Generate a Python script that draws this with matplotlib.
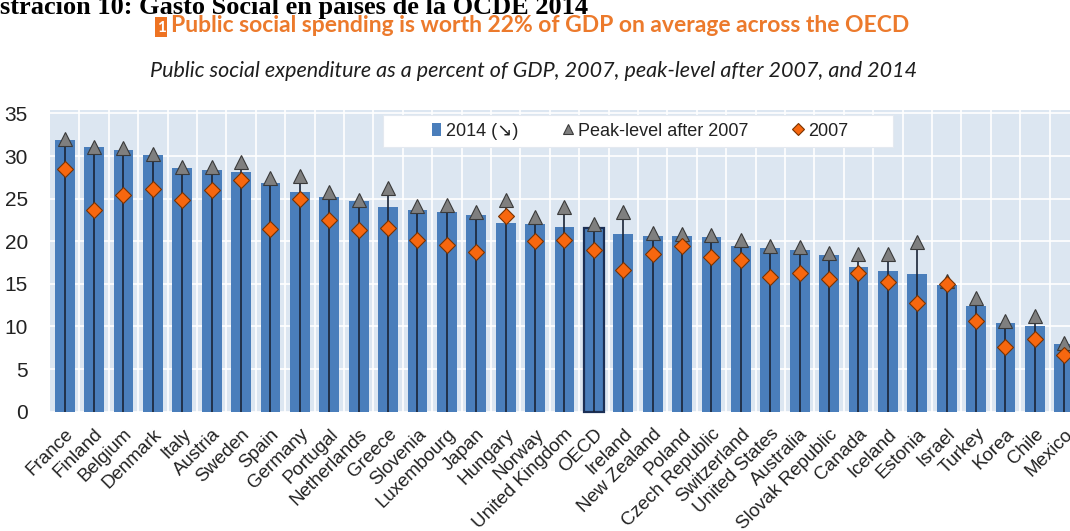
import matplotlib
matplotlib.use("Agg")
import matplotlib.pyplot as plt
from matplotlib.patches import Rectangle
import numpy as np

countries = ["France", "Finland", "Belgium", "Denmark", "Italy", "Austria", "Sweden",
             "Spain", "Germany", "Portugal", "Netherlands", "Greece", "Slovenia",
             "Luxembourg", "Japan", "Hungary", "Norway", "United Kingdom", "OECD",
             "Ireland", "New Zealand", "Poland", "Czech Republic", "Switzerland",
             "United States", "Australia", "Slovak Republic", "Canada", "Iceland",
             "Estonia", "Israel", "Turkey", "Korea", "Chile", "Mexico"]
spend_2014 = [31.9, 31.0, 30.7, 30.1, 28.6, 28.4, 28.1, 26.8, 25.8, 25.2, 24.7, 24.0,
              23.7, 23.4, 23.1, 22.1, 22.0, 21.7, 21.6, 20.8, 20.6, 20.6, 20.5, 19.4,
              19.2, 19.0, 18.4, 17.0, 16.5, 16.2, 14.9, 12.4, 10.4, 10.0, 7.9]
peak_after_2007 = [32.0, 31.0, 30.9, 30.2, 28.7, 28.7, 29.3, 27.4, 27.6, 25.8, 24.8, 26.3,
                   24.1, 24.3, 23.4, 24.8, 22.8, 24.0, 22.0, 23.4, 21.0, 20.8, 20.7, 20.1,
                   19.5, 19.3, 18.6, 18.5, 18.5, 19.9, 15.3, 13.3, 10.6, 11.2, 8.1]
spend_2007 = [28.5, 23.7, 25.4, 26.1, 24.8, 26.0, 27.2, 21.4, 24.9, 22.5, 21.3, 21.5,
              20.2, 19.6, 18.7, 23.0, 20.0, 20.1, 19.0, 16.6, 18.5, 19.5, 18.1, 17.8,
              15.8, 16.3, 15.6, 16.3, 15.2, 12.8, 15.0, 10.7, 7.6, 8.5, 6.7]
y_ticks = [0, 5, 10, 15, 20, 25, 30, 35]

bar_color = "#4A7EBB"
bg_color = "#DCE6F1"
tri_color = "#7F7F7F"
dia_color = "#F7670F"

plt.rcParams["font.family"] = ["Liberation Sans", "DejaVu Sans"]

fig = plt.figure(figsize=(10.70, 5.31), dpi=100)
ax = fig.add_axes([50 / 1070, 1 - 411.7 / 531, 1029 / 1070, 301.7 / 531])
ax.set_facecolor(bg_color)

x = np.arange(len(countries))
bars = ax.bar(x, spend_2014, width=0.68, color=bar_color, zorder=2, label="2014 (\u2198)")
oecd = countries.index("OECD")
bars[oecd].set_edgecolor("#1B2F55")
bars[oecd].set_linewidth(1.6)
bars[oecd].set_clip_on(False)

ax.vlines(x, 0, peak_after_2007, color="#1A2436", lw=1.2, zorder=3)
peak_line, = ax.plot(x, peak_after_2007, linestyle="none", marker="^", markersize=10,
                     markerfacecolor=tri_color, markeredgecolor="#3A3A3A",
                     markeredgewidth=0.8, zorder=4, label="Peak-level after 2007")
y2007_line, = ax.plot(x, spend_2007, linestyle="none", marker="D", markersize=8,
                      markerfacecolor=dia_color, markeredgecolor="#7A3300",
                      markeredgewidth=0.8, zorder=5, label="2007")

ax.set_xlim(-0.5, len(countries) - 0.5)
ax.set_ylim(0, 35.4)
ax.set_yticks(y_ticks)
ax.set_xticks(x)
ax.set_xticks(x[:-1] + 0.5, minor=True)
ax.set_xticklabels(countries, rotation=45, ha="right", rotation_mode="anchor",
                   fontsize=13.5, color="#222222")
ax.tick_params(axis="y", labelsize=15, colors="#222222", length=0, pad=16)
ax.tick_params(axis="x", which="both", length=0, pad=10)
ax.grid(axis="y", color="white", lw=1.2, zorder=0)
ax.grid(axis="x", which="minor", color="white", lw=1.2, zorder=0)
ax.set_axisbelow(True)
for s in ax.spines.values():
    s.set_visible(False)

# white legend box, inside the axes so the legend can sit on top of it
ax.add_patch(Rectangle((383 / 1070, 1 - 147 / 531), 510 / 1070, 32 / 531,
                       transform=fig.transFigure, facecolor="white",
                       edgecolor="#E4E9F0", lw=0.8, zorder=6, clip_on=False))
leg = ax.legend([bars, peak_line, y2007_line],
                ["2014 (\u2198)", "Peak-level after 2007", "2007"],
                loc="center", bbox_to_anchor=(640 / 1070, 1 - 131 / 531),
                bbox_transform=fig.transFigure, ncol=3, fontsize=13,
                frameon=False, handlelength=0.5, handletextpad=0.3,
                columnspacing=2.5, borderaxespad=0, markerscale=0.75)
leg.set_zorder(7)
for t in leg.get_texts():
    t.set_color("#222222")

fig.text(0, 1 - 14 / 531, "straci\u00f3n 10: Gasto Social en pa\u00edses de la OCDE 2014",
         family="Liberation Serif", weight="bold", fontsize=19, va="baseline", ha="left")
fig.add_artist(Rectangle((155 / 1070, 1 - 37 / 531), 12 / 1070, 20 / 531,
                         transform=fig.transFigure, facecolor="#EE7322",
                         edgecolor="none"))
fig.text(161 / 1070, 1 - 32 / 531, "1", family="Lato", weight="bold", fontsize=11,
         color="white", ha="center", va="baseline")
fig.text(171 / 1070, 1 - 32 / 531,
         "Public social spending is worth 22% of GDP on average across the OECD",
         family="Lato", weight="bold", fontsize=16.5, color="#EC7A2C", ha="left",
         va="baseline")
fig.text(534 / 1070, 1 - 77 / 531,
         "Public social expenditure as a percent of GDP, 2007, peak-level after 2007, and 2014",
         family="Lato", style="italic", fontsize=15.5, color="#1E1E1E", ha="center",
         va="baseline")

fig.savefig("out.png", dpi=100)
